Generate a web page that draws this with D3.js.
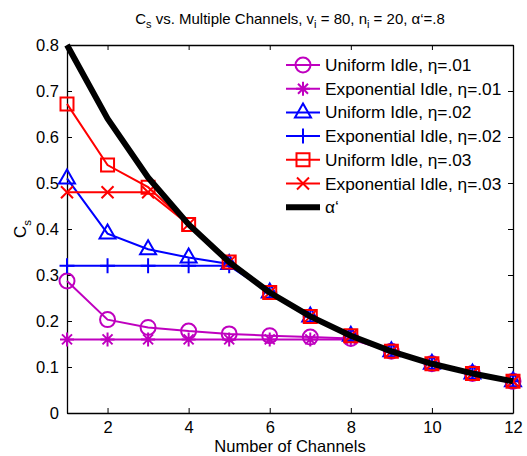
<!DOCTYPE html>
<html>
<head>
<meta charset="utf-8">
<script src="https://cdn.jsdelivr.net/npm/d3@7"></script>
<style>
  body { margin: 0; background: #fff; }
  text { font-family: "Liberation Sans", Arial, Helvetica, sans-serif; fill: #000; }
</style>
</head>
<body>
<div id="chart"></div>
<script>
// Data
var channels = [1, 2, 3, 4, 5, 6, 7, 8, 9, 10, 11, 12];
var alphaPrime = [0.8, 0.64, 0.512, 0.41, 0.328, 0.262, 0.21, 0.168, 0.134, 0.107, 0.086, 0.069];
var uniform01 = [0.287, 0.203, 0.186, 0.178, 0.172, 0.168, 0.165, 0.162, 0.134, 0.107, 0.086, 0.069];
var expo01 = [0.16, 0.16, 0.16, 0.16, 0.16, 0.16, 0.16, 0.16, 0.134, 0.107, 0.086, 0.069];
var uniform02 = [0.51, 0.39, 0.356, 0.338, 0.324, 0.262, 0.21, 0.168, 0.134, 0.107, 0.086, 0.069];
var expo02 = [0.32, 0.32, 0.32, 0.32, 0.32, 0.262, 0.21, 0.168, 0.134, 0.107, 0.086, 0.069];
var uniform03 = [0.672, 0.539, 0.491, 0.41, 0.328, 0.262, 0.21, 0.168, 0.134, 0.107, 0.086, 0.069];
var expo03 = [0.48, 0.48, 0.48, 0.41, 0.328, 0.262, 0.21, 0.168, 0.134, 0.107, 0.086, 0.069];
var xTicks = [2, 4, 6, 8, 10, 12];
var yTicks = [0, 0.1, 0.2, 0.3, 0.4, 0.5, 0.6, 0.7, 0.8];

var series = [
  { name: "Uniform Idle, η=.01", values: uniform01, color: "#bf00bf", marker: "circle" },
  { name: "Exponential Idle, η=.01", values: expo01, color: "#bf00bf", marker: "star" },
  { name: "Uniform Idle, η=.02", values: uniform02, color: "#0000ff", marker: "triangle" },
  { name: "Exponential Idle, η=.02", values: expo02, color: "#0000ff", marker: "plus" },
  { name: "Uniform Idle, η=.03", values: uniform03, color: "#ff0000", marker: "square" },
  { name: "Exponential Idle, η=.03", values: expo03, color: "#ff0000", marker: "x" }
];

var svgWidth = 527;
var svgHeight = 456;
var margins = { top: 45, right: 14, bottom: 43, left: 67 };
var width = svgWidth - margins.left - margins.right;
var height = svgHeight - margins.top - margins.bottom;

var svg = d3.select("#chart")
  .append("svg")
  .attr("width", svgWidth)
  .attr("height", svgHeight);

var chartGroup = svg.append("g")
  .attr("transform", `translate(${margins.left}, ${margins.top})`);

var xScale = d3.scaleLinear().domain([1, 12]).range([0, width]);
var yScale = d3.scaleLinear().domain([0, 0.8]).range([height, 0]);

// marker paths centred on 0,0
function markerPath(type) {
  switch (type) {
    case "circle":
      return "M7.5,0A7.5,7.5 0 1,1 -7.5,0A7.5,7.5 0 1,1 7.5,0Z";
    case "triangle":
      return "M0,-9L8,5L-8,5Z";
    case "square":
      return "M-6.5,-6.5H6.5V6.5H-6.5Z";
    case "x":
      return "M-6,-6L6,6M-6,6L6,-6";
    case "plus":
      return "M-7.5,0H7.5M0,-7.5V7.5";
    case "star":
      return "M-7,0H7M0,-7V7M-5,-5L5,5M-5,5L5,-5";
  }
}

// Axes (box with inward ticks on all sides)
var bottomAxis = d3.axisBottom(xScale).tickValues(xTicks).tickSizeInner(-5).tickSizeOuter(0).tickPadding(8);
var topAxis = d3.axisTop(xScale).tickValues(xTicks).tickSizeInner(-5).tickSizeOuter(0).tickFormat("");
var leftAxis = d3.axisLeft(yScale).tickValues(yTicks).tickSizeInner(-5).tickSizeOuter(0).tickPadding(8)
  .tickFormat(d => d === 0 ? "0" : d3.format(".1f")(d));
var rightAxis = d3.axisRight(yScale).tickValues(yTicks).tickSizeInner(-5).tickSizeOuter(0).tickFormat("");

chartGroup.append("g").attr("class", "axis").attr("transform", `translate(0, ${height})`).call(bottomAxis);
chartGroup.append("g").attr("class", "axis").call(topAxis);
chartGroup.append("g").attr("class", "axis").call(leftAxis);
chartGroup.append("g").attr("class", "axis").attr("transform", `translate(${width}, 0)`).call(rightAxis);

chartGroup.selectAll(".axis path").attr("stroke", "#000").attr("stroke-width", 1.3);
chartGroup.selectAll(".axis line").attr("stroke", "#000").attr("stroke-width", 1);
chartGroup.selectAll(".axis text").attr("font-size", 16.5).attr("font-family", "Liberation Sans, Arial, sans-serif");

var line = d3.line()
  .x((d, i) => xScale(channels[i]))
  .y(d => yScale(d));

// Series lines + markers
series.forEach(function(s) {
  chartGroup.append("path")
    .datum(s.values)
    .attr("d", line)
    .attr("fill", "none")
    .attr("stroke", s.color)
    .attr("stroke-width", 2);

  chartGroup.selectAll(null)
    .data(s.values)
    .enter()
    .append("path")
    .attr("transform", (d, i) => `translate(${xScale(channels[i])}, ${yScale(d)})`)
    .attr("d", markerPath(s.marker))
    .attr("fill", "none")
    .attr("stroke", s.color)
    .attr("stroke-width", 2);
});

// alpha' thick black line
chartGroup.append("path")
  .datum(alphaPrime)
  .attr("d", line)
  .attr("fill", "none")
  .attr("stroke", "#000")
  .attr("stroke-width", 6)
  .attr("stroke-linejoin", "round");

// Legend
var legend = chartGroup.append("g")
  .attr("transform", "translate(219, 20)");
var rowH = 23.7;
series.concat([{ name: "α‘", color: "#000", marker: null }]).forEach(function(s, i) {
  var row = legend.append("g").attr("transform", `translate(0, ${i * rowH})`);
  row.append("line")
    .attr("x1", 0).attr("x2", 34)
    .attr("stroke", s.color)
    .attr("stroke-width", s.marker ? 2 : 6);
  if (s.marker) {
    row.append("path")
      .attr("transform", "translate(17, 0)")
      .attr("d", markerPath(s.marker))
      .attr("fill", "none")
      .attr("stroke", s.color)
      .attr("stroke-width", 2);
  }
  row.append("text")
    .attr("x", 39)
    .attr("dy", "0.35em")
    .attr("font-size", 17.3)
    .text(s.name);
});

// Title
var title = svg.append("text")
  .attr("x", margins.left + width / 2)
  .attr("y", 24)
  .attr("text-anchor", "middle")
  .attr("font-size", 15);
title.append("tspan").text("C");
title.append("tspan").attr("font-size", 11).attr("dy", 4).text("s");
title.append("tspan").attr("dy", -4).text(" vs. Multiple Channels, v");
title.append("tspan").attr("font-size", 11).attr("dy", 4).text("i");
title.append("tspan").attr("dy", -4).text(" = 80, n");
title.append("tspan").attr("font-size", 11).attr("dy", 4).text("i");
title.append("tspan").attr("dy", -4).text(" = 20, α‘=.8");

// Axis labels
svg.append("text")
  .attr("x", margins.left + width / 2)
  .attr("y", 452)
  .attr("text-anchor", "middle")
  .attr("font-size", 16.5)
  .text("Number of Channels");

var yLabel = svg.append("text")
  .attr("transform", `translate(26, ${margins.top + height / 2}) rotate(-90)`)
  .attr("text-anchor", "middle")
  .attr("font-size", 17);
yLabel.append("tspan").text("C");
yLabel.append("tspan").attr("font-size", 11.5).attr("dy", 5).text("s");
</script>
</body>
</html>
